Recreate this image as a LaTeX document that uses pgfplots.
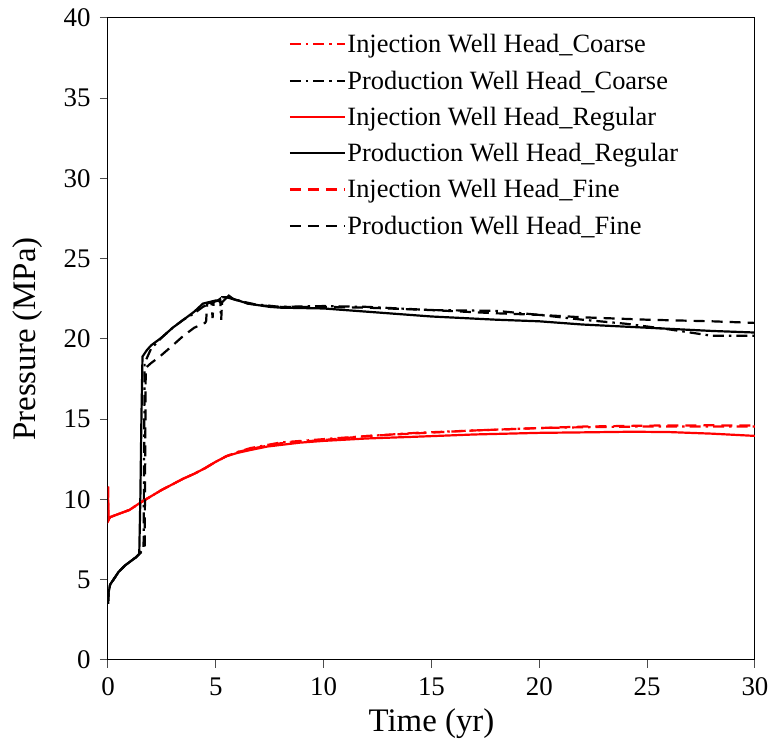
\documentclass[border=0pt]{standalone}
\usepackage{fontspec}
\setmainfont{Liberation Serif}
\usepackage{pgfplots}
\pgfplotsset{compat=1.18}
\begin{document}
\begin{tikzpicture}
\begin{axis}[
  width=647bp, height=642bp, scale only axis,
  xmin=0, xmax=30, ymin=0, ymax=40,
  xtick={0,5,...,30}, ytick={0,5,...,40},
  tick align=outside, major tick length=8bp,
  xtick pos=bottom, ytick pos=left,
  axis line style={line width=1bp},
  tick style={line width=1bp, black!70},
  /pgf/number format/assume math mode=true,
  ticklabel style={font=\rmfamily\fontsize{27}{27}\selectfont},
  xticklabel style={yshift=-6bp},
  yticklabel style={xshift=-6bp},
  label style={font=\rmfamily\fontsize{33}{33}\selectfont},
  xlabel={Time (yr)},
  ylabel={Pressure (MPa)},
  xlabel style={at={(axis description cs:0.5,-0.070)}, anchor=north},
  ylabel style={at={(axis description cs:-0.096,0.5)}, anchor=south},
  legend cell align=left,
  legend style={draw=none, fill=none, at={(axis description cs:0.884,0.977)},
    anchor=north east, font=\rmfamily\fontsize{26.5}{30}\selectfont, row sep=13.5bp,
    inner sep=0bp, nodes={inner sep=1.5bp}},
  legend image code/.code={\draw[#1] (-3bp,0bp) -- (52bp,0bp);},
  every axis plot/.append style={line width=2.2bp},
  extra description/.code={
    \path (axis description cs:-0.1669,-0.1246) (axis description cs:1.0294,1.028);
  },
]
% Injection Well Head_Coarse
\addplot[red, dash pattern=on 11bp off 5bp on 2.5bp off 5bp] coordinates {
(0,10.8)(0.02,8.7)(0.1,8.9)(0.5,9.1)(1,9.35)(1.5,9.8)(2,10.2)(2.5,10.6)(3,10.95)
(3.5,11.3)(4,11.6)(4.5,11.95)(5,12.35)(5.5,12.7)(6,12.95)(6.6,13.2)(8,13.55)
(10.4,13.8)(12,13.95)(14.3,14.15)(17,14.3)(20,14.45)(22,14.5)(25,14.55)(28,14.55)(30,14.55)};
\addlegendentry{Injection Well Head\_Coarse}
% Production Well Head_Coarse
\addplot[black, dash pattern=on 11bp off 5bp on 2.5bp off 5bp] coordinates {
(0,3.5)(0.03,4.2)(0.1,4.7)(0.2,4.9)(0.5,5.5)(0.8,5.9)(1.0,6.1)(1.3,6.4)(1.45,6.6)
(1.65,7.0)(1.7,18.5)(2.0,19.4)(2.5,20.1)(3.0,20.7)(3.5,21.2)(4.0,21.6)(4.4,22.0)
(4.7,22.2)(5.0,22.3)(5.2,22.5)(5.25,21.2)(5.3,22.6)(5.6,22.6)(6.5,22.2)(8,22.0)
(10,22.05)(12,22.0)(15,21.8)(18,21.75)(20,21.5)(22,21.2)(24,20.95)(26,20.6)
(27,20.4)(28,20.2)(30,20.2)};
\addlegendentry{Production Well Head\_Coarse}
% Injection Well Head_Regular
\addplot[red] coordinates {
(0,10.8)(0.02,8.7)(0.1,8.9)(0.5,9.1)(1,9.35)(1.5,9.8)(2,10.2)(2.5,10.6)(3,10.95)
(3.5,11.3)(4,11.6)(4.5,11.95)(5,12.35)(5.5,12.7)(6,12.9)(6.6,13.08)(7.4,13.3)
(8.9,13.54)(10,13.65)(12,13.8)(14.3,13.91)(17,14.05)(20,14.15)(22,14.18)
(24.3,14.22)(26,14.2)(28,14.1)(30,13.96)};
\addlegendentry{Injection Well Head\_Regular}
% Production Well Head_Regular
\addplot[black] coordinates {
(0,3.5)(0.03,4.2)(0.1,4.7)(0.2,4.9)(0.5,5.5)(0.8,5.9)(1.0,6.1)(1.3,6.4)(1.45,6.6)
(1.5,10)(1.55,15)(1.6,18.9)(1.8,19.3)(2.0,19.6)(2.5,20.1)(3.0,20.7)(3.5,21.2)
(4.0,21.7)(4.4,22.2)(4.7,22.3)(5.0,22.4)(5.3,22.3)(5.6,22.7)(5.8,22.5)(6.5,22.2)
(7.5,22.0)(8,21.95)(10,21.9)(12,21.7)(15,21.4)(18,21.2)(20,21.1)(22,20.9)
(25,20.7)(28,20.5)(30,20.4)};
\addlegendentry{Production Well Head\_Regular}
% Injection Well Head_Fine
\addplot[red, dash pattern=on 11bp off 7bp] coordinates {
(0,10.8)(0.02,8.7)(0.1,8.9)(0.5,9.1)(1,9.35)(1.5,9.8)(2,10.2)(2.5,10.6)(3,10.95)
(3.5,11.3)(4,11.6)(4.5,11.95)(5,12.35)(5.5,12.7)(6,12.95)(6.6,13.15)(8,13.5)
(10.4,13.75)(12,13.95)(14.3,14.12)(17,14.3)(20,14.45)(22,14.54)(25,14.6)(28,14.62)(30,14.6)};
\addlegendentry{Injection Well Head\_Fine}
% Production Well Head_Fine
\addplot[black, dash pattern=on 11bp off 7bp] coordinates {
(0,3.5)(0.03,4.2)(0.1,4.7)(0.2,4.9)(0.5,5.5)(0.8,5.9)(1.0,6.1)(1.3,6.4)(1.45,6.6)
(1.7,6.9)(1.75,18.2)(2.0,18.5)(2.4,18.9)(3.0,19.6)(3.5,20.2)(4.0,20.7)(4.5,21.0)
(4.55,21.1)(4.6,22.2)(4.8,22.3)(4.85,21.3)(4.9,22.3)(5.5,22.6)(6,22.4)(7,22.1)
(8,22.0)(10,22.0)(12,21.95)(15,21.8)(18,21.6)(20,21.5)(22,21.35)(25,21.2)
(28,21.1)(30,21.0)};
\addlegendentry{Production Well Head\_Fine}
\end{axis}
\end{tikzpicture}
\end{document}
